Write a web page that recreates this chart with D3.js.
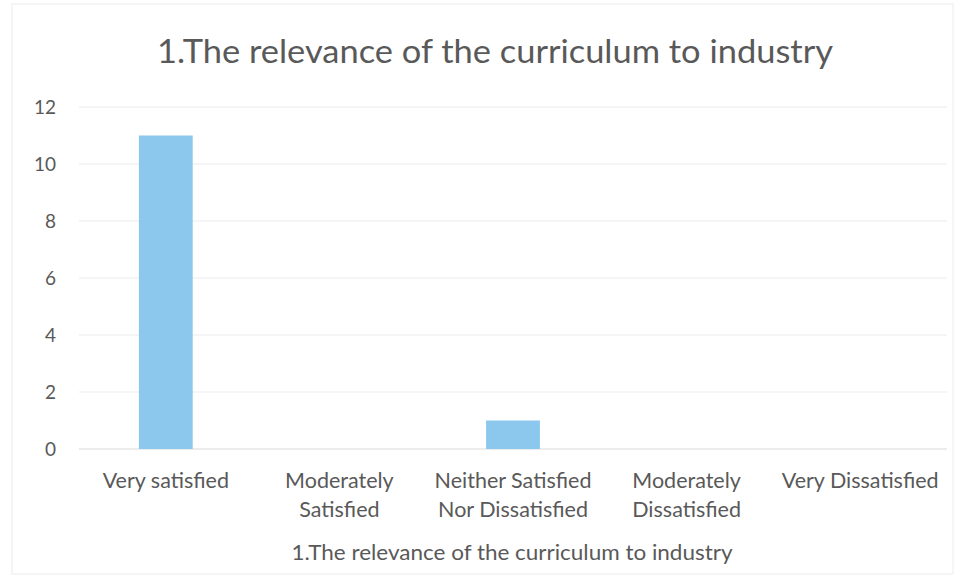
<!DOCTYPE html>
<html>
<head>
<meta charset="utf-8">
<script src="https://cdn.jsdelivr.net/npm/d3@7"></script>
<style>
  body { margin: 0; background: #fff; }
  text { font-family: Lato, "Open Sans", sans-serif; fill: #595959; }
</style>
</head>
<body>
<div id="chart"></div>
<script>
// data
const categories = [
  ["Very satisfied"],
  ["Moderately", "Satisfied"],
  ["Neither Satisfied", "Nor Dissatisfied"],
  ["Moderately", "Dissatisfied"],
  ["Very Dissatisfied"]
];
const counts = [11, 0, 1, 0, 0];
const yTicks = [0, 2, 4, 6, 8, 10, 12];
const title = "1.The relevance of the curriculum to industry";

const width = 963, height = 580;
const margin = {top: 107, right: 16, bottom: 131, left: 79};

const svg = d3.select("#chart").append("svg")
  .attr("width", width)
  .attr("height", height);

// faint chart frame
svg.append("rect")
  .attr("x", 12).attr("y", 4)
  .attr("width", width - 22).attr("height", height - 10)
  .attr("fill", "none")
  .attr("stroke", "#ececec");

const x = d3.scaleBand()
  .domain(d3.range(categories.length))
  .range([margin.left, width - margin.right])
  .paddingInner(0.69)
  .paddingOuter(0.345);

const y = d3.scaleLinear()
  .domain([0, 12])
  .range([height - margin.bottom, margin.top]);

// gridlines
svg.append("g")
  .selectAll("line")
  .data(yTicks)
  .join("line")
  .attr("x1", margin.left)
  .attr("x2", width - margin.right)
  .attr("y1", d => y(d))
  .attr("y2", d => y(d))
  .attr("stroke", d => d === 0 ? "#d9d9d9" : "#ebebeb")
  .attr("stroke-width", 1);

// y labels
svg.append("g")
  .selectAll("text")
  .data(yTicks)
  .join("text")
  .attr("x", 56)
  .attr("y", d => y(d))
  .attr("dy", "0.35em")
  .attr("text-anchor", "end")
  .style("font-size", "19px")
  .text(d => d);

// bars
svg.append("g")
  .selectAll("rect")
  .data(counts)
  .join("rect")
  .attr("x", (d, i) => x(i))
  .attr("y", d => y(d))
  .attr("width", x.bandwidth())
  .attr("height", d => y(0) - y(d))
  .attr("fill", "#8cc8ee");

// category labels
const catG = svg.append("g")
  .selectAll("text")
  .data(categories)
  .join("text")
  .attr("x", (d, i) => x(i) + x.bandwidth() / 2)
  .attr("y", 488)
  .attr("text-anchor", "middle")
  .style("font-size", "21.5px");
catG.selectAll("tspan")
  .data(d => d)
  .join("tspan")
  .attr("x", function() { return this.parentNode.getAttribute("x"); })
  .attr("dy", (d, i) => i === 0 ? 0 : 29)
  .text(d => d);

// axis title
svg.append("text")
  .attr("x", 512)
  .attr("y", 560)
  .attr("text-anchor", "middle")
  .style("font-size", "21px")
  .attr("textLength", 441)
  .attr("lengthAdjust", "spacingAndGlyphs")
  .text(title);

// chart title
svg.append("text")
  .attr("x", 495)
  .attr("y", 63)
  .attr("text-anchor", "middle")
  .style("font-size", "33px")
  .attr("textLength", 676)
  .attr("lengthAdjust", "spacingAndGlyphs")
  .text(title);
</script>
</body>
</html>
